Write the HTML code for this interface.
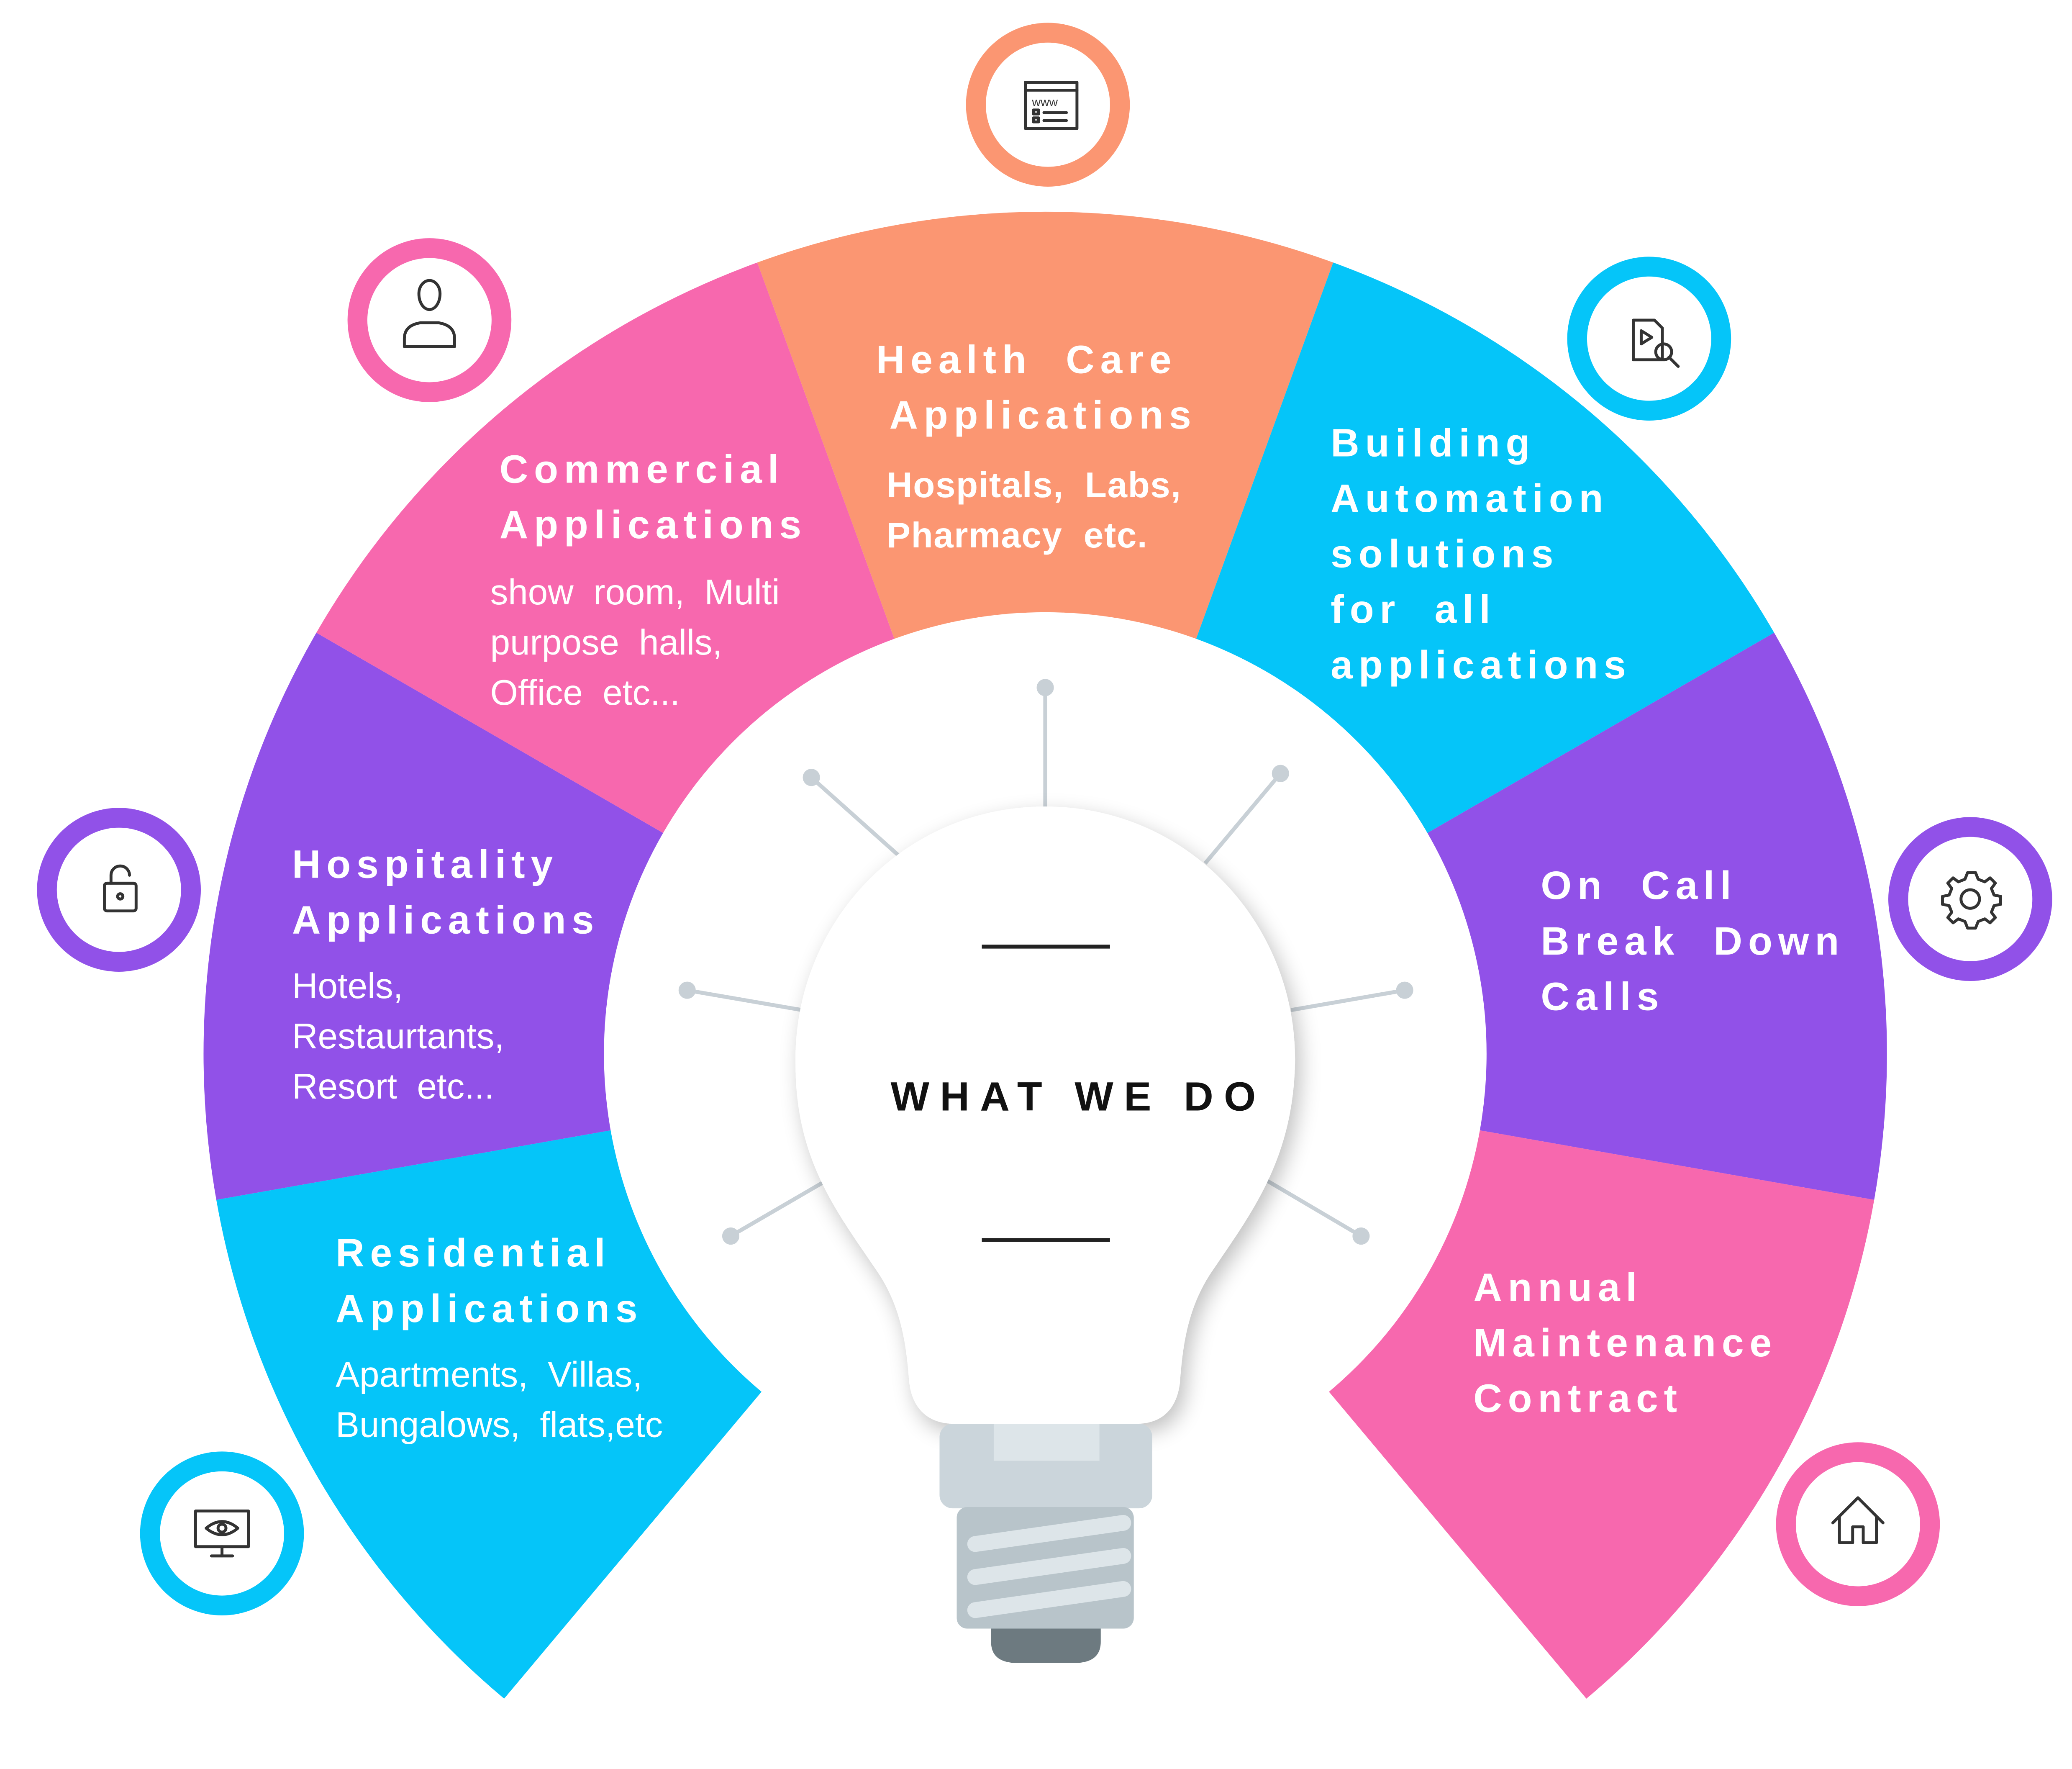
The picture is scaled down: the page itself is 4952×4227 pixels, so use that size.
<!DOCTYPE html>
<html><head><meta charset="utf-8">
<style>
html,body{margin:0;padding:0;background:#fff;}
svg{display:block;}
text{white-space:pre;}
.h{font-family:"Liberation Sans",sans-serif;font-weight:bold;fill:#fff;font-size:30px;letter-spacing:4.4px;}
.s{font-family:"Liberation Sans",sans-serif;fill:#fff;font-size:27px;}
.sb{font-family:"Liberation Sans",sans-serif;fill:#fff;font-size:27px;font-weight:bold;letter-spacing:0.5px;}
.ic{fill:none;stroke:#333;stroke-width:2.2;stroke-linecap:round;stroke-linejoin:round;}
</style></head>
<body>
<svg width="4952" height="4227" viewBox="0 0 1568 1338" xmlns="http://www.w3.org/2000/svg" xml:space="preserve">
<defs>
<filter id="sh" x="-20%" y="-20%" width="140%" height="140%">
<feGaussianBlur in="SourceAlpha" stdDeviation="8"/><feOffset dx="4" dy="6"/>
<feComponentTransfer><feFuncA type="linear" slope="0.25"/></feComponentTransfer>
<feMerge><feMergeNode/><feMergeNode in="SourceGraphic"/></feMerge></filter>
</defs>
<rect width="1568" height="1338" fill="#fff"/>
<path d="M163.7,907.6 A637,637 0 0 0 381.5,1285 L576.3,1052.8 A334,334 0 0 1 462.1,855 Z" fill="#05C5F9"/>
<path d="M239.4,478.5 A637,637 0 0 0 163.7,907.6 L462.1,855 A334,334 0 0 1 501.8,630 Z" fill="#9151E8"/>
<path d="M573.1,198.4 A637,637 0 0 0 239.4,478.5 L501.8,630 A334,334 0 0 1 676.8,483.1 Z" fill="#F768AE"/>
<path d="M573.1,198.4 A637,637 0 0 1 1008.9,198.4 L905.2,483.1 A334,334 0 0 0 676.8,483.1 Z" fill="#FB9672"/>
<path d="M1008.9,198.4 A637,637 0 0 1 1342.6,478.5 L1080.2,630 A334,334 0 0 0 905.2,483.1 Z" fill="#05C5F9"/>
<path d="M1342.6,478.5 A637,637 0 0 1 1418.3,907.6 L1119.9,855 A334,334 0 0 0 1080.2,630 Z" fill="#9151E8"/>
<path d="M1418.3,907.6 A637,637 0 0 1 1200.5,1285 L1005.7,1052.8 A334,334 0 0 0 1119.9,855 Z" fill="#F768AE"/>

<g>
<circle cx="793" cy="79" r="62" fill="#FB9672"/><circle cx="793" cy="79" r="47" fill="#fff"/>
<circle cx="325" cy="242" r="62" fill="#F768AE"/><circle cx="325" cy="242" r="47" fill="#fff"/>
<circle cx="1248" cy="256" r="62" fill="#05C5F9"/><circle cx="1248" cy="256" r="47" fill="#fff"/>
<circle cx="90" cy="673" r="62" fill="#9151E8"/><circle cx="90" cy="673" r="47" fill="#fff"/>
<circle cx="1491" cy="680" r="62" fill="#9151E8"/><circle cx="1491" cy="680" r="47" fill="#fff"/>
<circle cx="168" cy="1160" r="62" fill="#05C5F9"/><circle cx="168" cy="1160" r="47" fill="#fff"/>
<circle cx="1406" cy="1153" r="62" fill="#F768AE"/><circle cx="1406" cy="1153" r="47" fill="#fff"/>
</g>
<g class="ic">
<rect x="776" y="62" width="39" height="35"/><line x1="776" y1="68" x2="815" y2="68"/>
<rect x="782" y="83" width="4" height="3"/><rect x="782" y="89" width="4" height="3"/>
<line x1="790" y1="85" x2="807" y2="85"/><line x1="790" y1="91" x2="807" y2="91"/>
<path d="M317,222 a8,10 0 1 1 16,0 a8,12 0 0 1 -16,0 Z"/><path d="M306,262 v-6 q0,-10 12,-12 h14 q12,2 12,12 v6 Z"/>
<path d="M1236,242 h16 l6,6 v24 h-22 Z"/><path d="M1242,250 l8,5 l-8,5 Z"/><circle cx="1259" cy="266" r="6"/><line x1="1263" y1="270" x2="1270" y2="277"/>
<rect x="79" y="668" width="24" height="21" rx="2"/><path d="M84,668 v-6 a7,7 0 0 1 14,0"/><circle cx="91" cy="678" r="2"/>
<circle cx="1491" cy="680" r="7"/><path d="M1491,660 l4,0 l2,5 l5,2 l4,-3 l4,4 l-3,4 l2,5 l5,1 v6 l-5,1 l-2,5 l3,4 l-4,4 l-4,-3 l-5,2 l-2,5 h-6 l-2,-5 l-5,-2 l-4,3 l-4,-4 l3,-4 l-2,-5 l-5,-1 v-6 l5,-1 l2,-5 l-3,-4 l4,-4 l4,3 l5,-2 l2,-5 Z"/>
<rect x="148" y="1143" width="40" height="27"/><path d="M156,1156 q12,-10 24,0 q-12,10 -24,0 Z"/><circle cx="168" cy="1156" r="3"/><line x1="168" y1="1170" x2="168" y2="1177"/><line x1="160" y1="1177" x2="176" y2="1177"/>
<path d="M1387,1152 l19,-19 l19,19 M1392,1147 v20 h10 v-12 h8 v12 h10 v-20"/>
</g>
<text x="781" y="80" font-family="Liberation Sans,sans-serif" font-size="9" fill="#333">www</text>

<circle cx="791" cy="797" r="330" fill="#fff"/>
<g stroke="#C8D0D6" stroke-width="3" fill="#C8D0D6">
<line x1="791" y1="520" x2="791" y2="612"/><circle cx="791" cy="520" r="5"/>
<line x1="614" y1="588" x2="680" y2="647"/><circle cx="614" cy="588" r="5"/>
<line x1="969" y1="585" x2="912" y2="653"/><circle cx="969" cy="585" r="5"/>
<line x1="520" y1="749" x2="607" y2="764"/><circle cx="520" cy="749" r="5"/>
<line x1="1063" y1="749" x2="977" y2="764"/><circle cx="1063" cy="749" r="5"/>
<line x1="553" y1="935" x2="627" y2="892"/><circle cx="553" cy="935" r="5"/>
<line x1="1030" y1="935" x2="957" y2="892"/><circle cx="1030" cy="935" r="5"/>
</g>
<path filter="url(#sh)" fill="#fff" d="M791,610 C900,610 982,700 980,805 C978,880 945,920 915,965 C898,992 895,1020 893,1045 C891,1065 880,1077 860,1077 L722,1077 C702,1077 690,1065 688,1045 C686,1020 683,992 666,965 C636,920 602,880 602,805 C600,700 682,610 791,610 Z"/>
<rect x="711" y="1077" width="161" height="64" rx="10" fill="#CBD5DB"/>
<rect x="752" y="1077" width="80" height="28" fill="#DDE5E9"/>
<rect x="724" y="1140" width="134" height="92" rx="8" fill="#B8C4CA"/>
<g stroke="#DDE5E9" stroke-width="12" stroke-linecap="round">
<line x1="738" y1="1168" x2="850" y2="1152"/><line x1="738" y1="1193" x2="850" y2="1177"/><line x1="738" y1="1218" x2="850" y2="1202"/>
</g>
<path d="M750,1232 h83 v10 q0,16 -20,16 h-43 q-20,0 -20,-16 Z" fill="#6D7A80"/>
<line x1="743" y1="716" x2="840" y2="716" stroke="#222" stroke-width="3"/>
<line x1="743" y1="938" x2="840" y2="938" stroke="#222" stroke-width="3"/>
<text x="674" y="840" font-family="Liberation Sans,sans-serif" font-weight="bold" font-size="31" letter-spacing="8" fill="#111">WHAT WE DO</text>

<text class="h" x="663" y="282">Health  Care</text>
<text class="h" x="673" y="324">Applications</text>
<text class="sb" x="671" y="376">Hospitals,  Labs,</text>
<text class="sb" x="671" y="414">Pharmacy  etc.</text>

<text class="h" x="378" y="365">Commercial</text>
<text class="h" x="378" y="407">Applications</text>
<text class="s" x="371" y="457">show  room,  Multi</text>
<text class="s" x="371" y="495">purpose  halls,</text>
<text class="s" x="371" y="533">Office  etc...</text>

<text class="h" x="1007" y="345">Building</text>
<text class="h" x="1007" y="387">Automation</text>
<text class="h" x="1007" y="429">solutions</text>
<text class="h" x="1007" y="471">for  all</text>
<text class="h" x="1007" y="513">applications</text>

<text class="h" x="221" y="664">Hospitality</text>
<text class="h" x="221" y="706">Applications</text>
<text class="s" x="221" y="755">Hotels,</text>
<text class="s" x="221" y="793">Restaurtants,</text>
<text class="s" x="221" y="831">Resort  etc...</text>

<text class="h" x="1166" y="680">On  Call</text>
<text class="h" x="1166" y="722">Break  Down</text>
<text class="h" x="1166" y="764">Calls</text>

<text class="h" x="254" y="958">Residential</text>
<text class="h" x="254" y="1000">Applications</text>
<text class="s" x="254" y="1049">Apartments,  Villas,</text>
<text class="s" x="254" y="1087">Bungalows,  flats,etc</text>

<text class="h" x="1115" y="984">Annual</text>
<text class="h" x="1115" y="1026">Maintenance</text>
<text class="h" x="1115" y="1068">Contract</text>
</svg>
</body></html>
